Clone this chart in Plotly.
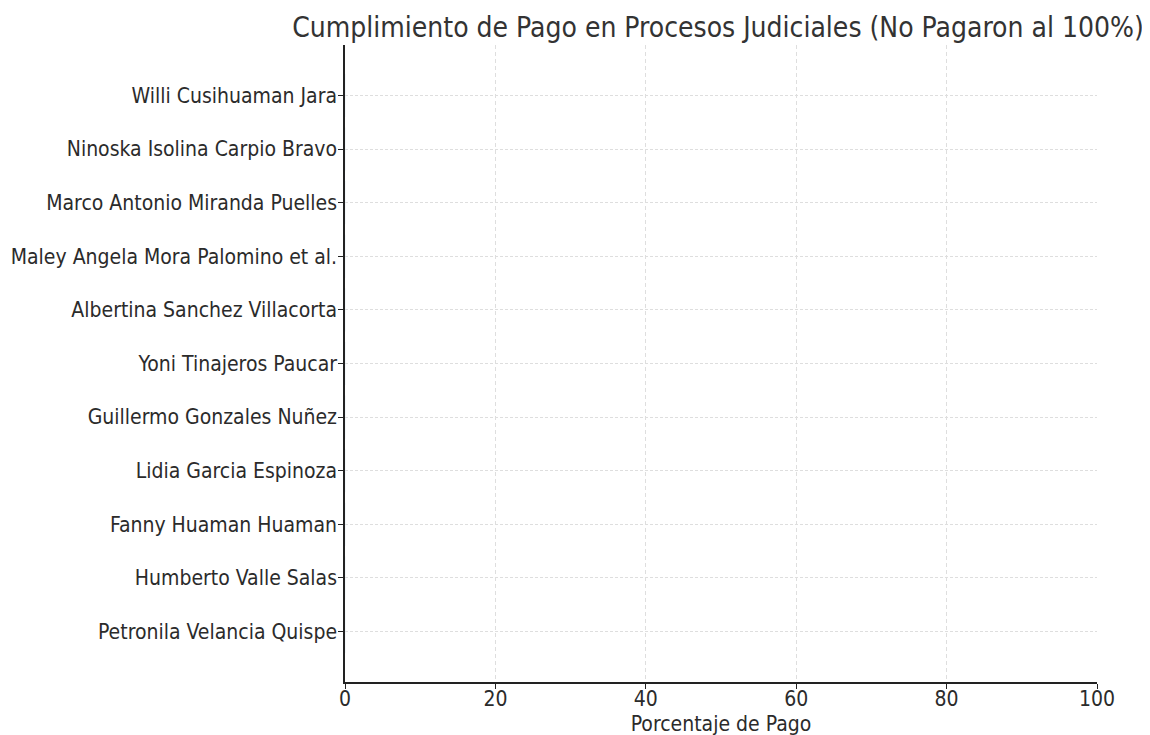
import plotly.graph_objects as go

names = [
    "Petronila Velancia Quispe",
    "Humberto Valle Salas",
    "Fanny Huaman Huaman",
    "Lidia Garcia Espinoza",
    "Guillermo Gonzales Nuñez",
    "Yoni Tinajeros Paucar",
    "Albertina Sanchez Villacorta",
    "Maley Angela Mora Palomino et al.",
    "Marco Antonio Miranda Puelles",
    "Ninoska Isolina Carpio Bravo",
    "Willi Cusihuaman Jara",
]
pago_pct = [0, 0, 0, 0, 0, 0, 0, 0, 0, 0, 0]
x_ticks = [0, 20, 40, 60, 80, 100]

FONT = "DejaVu Sans Condensed, DejaVu Sans, sans-serif"
TXT = "#2b2b2b"

fig = go.Figure(
    go.Bar(
        x=pago_pct,
        y=list(range(len(names))),
        orientation="h",
        width=0.8,
        marker=dict(color="#1f77b4"),
    )
)

fig.update_layout(
    width=1150,
    height=735,
    margin=dict(l=337, r=61, t=37, b=61, autoexpand=False),
    paper_bgcolor="white",
    plot_bgcolor="white",
    showlegend=False,
    font=dict(family=FONT, color=TXT, size=21),
    title=dict(
        text="Cumplimiento de Pago en Procesos Judiciales (No Pagaron al 100%)",
        x=710 / 1150,
        xanchor="center",
        y=1 - 19 / 735,
        yanchor="middle",
        font=dict(family=FONT, size=28, color="#333333"),
    ),
)

fig.update_xaxes(
    automargin=False,
    range=[0, 100],
    tickvals=x_ticks,
    ticktext=[str(v) for v in x_ticks],
    showline=True,
    linecolor="#222222",
    linewidth=1.5,
    ticks="outside",
    ticklen=5,
    tickcolor="#222222",
    ticklabelstandoff=-8,
    showgrid=True,
    gridcolor="#dedede",
    griddash="4px,3px",
    gridwidth=1,
    zeroline=False,
    tickfont=dict(size=21, family=FONT, color=TXT),
    title=dict(text="Porcentaje de Pago", font=dict(size=21, family=FONT, color=TXT), standoff=6),
    mirror=False,
)

fig.update_yaxes(
    automargin=False,
    range=[-0.94, 10.94],
    tickvals=list(range(len(names))),
    ticktext=names,
    showline=True,
    linecolor="#222222",
    linewidth=1.5,
    ticks="outside",
    ticklen=5,
    tickcolor="#222222",
    ticklabelstandoff=-3,
    showgrid=True,
    gridcolor="#dedede",
    griddash="3px,2px",
    gridwidth=1,
    zeroline=False,
    tickfont=dict(size=21, family=FONT, color=TXT),
    mirror=False,
)

fig.write_html("out.html")
